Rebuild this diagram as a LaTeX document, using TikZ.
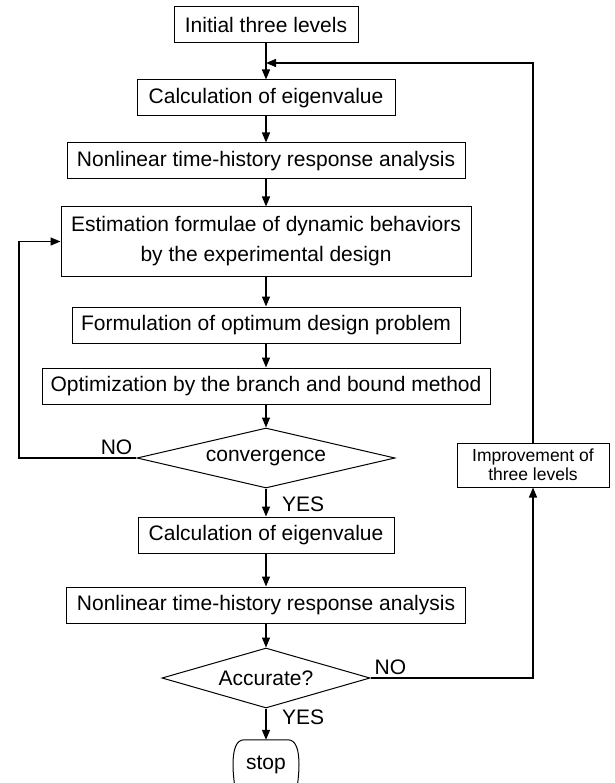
\documentclass[tikz,border=0pt]{standalone}
\usepackage{fontspec}
\setmainfont{Liberation Sans}
\usetikzlibrary{
    arrows.meta,
    shapes.geometric,
}

\begin{document}
\begin{tikzpicture}[x=1pt,y=-1pt,
    box/.style={draw, line width=1pt, inner sep=0pt, minimum height=36pt,
      font=\fontsize{21}{30}\selectfont},
    decision/.style={draw, diamond, aspect=4, line width=1pt, inner sep=0pt,
      minimum height=60pt, font=\fontsize{21}{30}\selectfont},
    tag/.style={inner sep=0pt, font=\fontsize{21}{25}\selectfont},
    flow/.style={line width=1.3pt, -{Triangle[length=10pt,width=8pt]}},
  ]
  \useasboundingbox (0,0) rectangle (614,783);

  \node[box, minimum width=184pt] (init) at (266,25) {Initial three levels};
  \node[box, minimum width=258pt] (eig1) at (266,98) {Calculation of eigenvalue};
  \node[box, minimum width=398pt] (resp1) at (266,161)
    {Nonlinear time-history response analysis};
  \node[box, minimum width=410pt, minimum height=69pt, align=center] (est) at (266,241.5)
    {Estimation formulae of dynamic behaviors\\by the experimental design};
  \node[box, minimum width=388pt] (form) at (266,325)
    {Formulation of optimum design problem};
  \node[box, minimum width=448pt] (opt) at (266,386)
    {Optimization by the branch and bound method};
  \node[decision, minimum width=258pt] (conv) at (266,458) {convergence};
  \node[box, minimum width=256pt] (eig2) at (266,535) {Calculation of eigenvalue};
  \node[box, minimum width=399pt] (resp2) at (266,605)
    {Nonlinear time-history response analysis};
  \node[decision, minimum width=208pt] (acc) at (266,678) {Accurate?};
  \node[inner sep=0pt, minimum width=66pt, minimum height=50pt,
    font=\fontsize{21}{25}\selectfont] (stop) at (266,765) {stop};
  \node[box, minimum width=152pt, minimum height=44pt, align=center,
    font=\fontsize{17.5}{19}\selectfont] (impr) at (533,465)
    {Improvement of\\three levels};

  \node[tag, anchor=south east] (no1) at ([shift={(-4pt,3pt)}]conv.west) {NO};
  \node[tag, anchor=north west] (yes1) at ([shift={(16pt,-8pt)}]conv.south) {YES};
  \node[tag, anchor=south west] (no2) at ([shift={(4pt,3.5pt)}]acc.east) {NO};
  \node[tag, anchor=north west] (yes2) at ([shift={(16pt,-1.5pt)}]acc.south) {YES};

  \draw[line width=1pt, shift={(stop.north)}]
    (-22,0) -- (22,0) .. controls (30,0) and (33,10) .. (33,25)
      .. controls (33,33) and (32,40) .. (31,50)
    (-22,0) .. controls (-30,0) and (-33,10) .. (-33,25)
      .. controls (-33,33) and (-32,40) .. (-31,50);

  \coordinate (join) at (266,63);
  \coordinate (leftx) at (19,0);

  \draw[flow] (init) -- (eig1);
  \draw[flow] (eig1) -- (resp1);
  \draw[flow] (resp1) -- (est);
  \draw[flow] (est) -- (form);
  \draw[flow] (form) -- (opt);
  \draw[flow] (opt) -- (conv);
  \draw[flow] (conv) -- (eig2);
  \draw[flow] (eig2) -- (resp2);
  \draw[flow] (resp2) -- (acc);
  \draw[flow] (acc) -- (stop.north);
  \draw[flow] (conv) -- (conv -| leftx) |- (est);
  \draw[flow] (acc) -| (impr);
  \draw[flow] (impr) |- (join);
\end{tikzpicture}
\end{document}
